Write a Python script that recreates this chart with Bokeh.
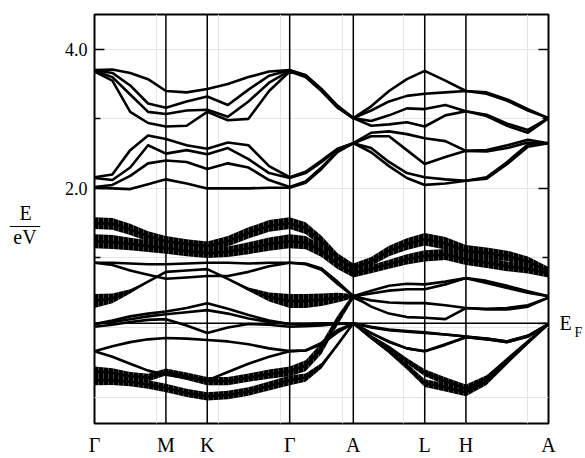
import numpy as np
from bokeh.plotting import figure
from bokeh.models import (Range1d, LinearAxis, FixedTicker, Span,
                          NumeralTickFormatter)
from bokeh.embed import file_html
from bokeh.resources import INLINE

# ---- path through the Brillouin zone -------------------------------------
k_labels = ["Γ", "M", "K", "Γ", "A", "L", "H", "A"]
k_sym = [0.0, 0.577, 0.911, 1.577, 2.091, 2.668, 3.001, 3.668]
seg_steps = [4, 2, 4, 4, 4, 2, 4]   # sampled intervals per segment

e_fermi = 0.06

# ---- conduction bands (eV), ordered from top to bottom ---------------------
cond_1 = [3.70, 3.71, 3.66, 3.57, 3.40, 3.38, 3.43, 3.50, 3.60, 3.68, 3.70, 3.63, 3.43, 3.19, 3.01, 3.18, 3.40, 3.57, 3.69, 3.55, 3.40, 3.38, 3.28, 3.14, 3.01]
cond_2 = [3.70, 3.66, 3.48, 3.22, 3.16, 3.25, 3.32, 3.20, 3.42, 3.62, 3.70, 3.62, 3.42, 3.18, 3.01, 3.12, 3.25, 3.33, 3.36, 3.38, 3.40, 3.36, 3.26, 3.12, 3.01]
cond_3 = [3.69, 3.60, 3.35, 3.10, 3.07, 3.12, 3.13, 3.03, 3.25, 3.52, 3.69, 3.61, 3.41, 3.17, 3.01, 2.97, 3.05, 3.15, 3.14, 3.20, 3.11, 3.06, 2.93, 2.84, 3.01]
cond_4 = [3.68, 3.55, 3.10, 2.94, 2.89, 2.90, 3.10, 2.98, 3.00, 3.40, 3.68, 3.60, 3.40, 3.16, 3.01, 2.90, 2.92, 2.95, 2.89, 3.05, 3.11, 3.04, 2.90, 2.80, 3.01]
cond_5 = [2.16, 2.20, 2.55, 2.76, 2.71, 2.62, 2.57, 2.66, 2.62, 2.32, 2.16, 2.24, 2.40, 2.57, 2.65, 2.80, 2.82, 2.78, 2.72, 2.68, 2.54, 2.55, 2.62, 2.70, 2.65]
cond_6 = [2.15, 2.12, 2.30, 2.62, 2.50, 2.55, 2.49, 2.58, 2.42, 2.22, 2.15, 2.22, 2.38, 2.56, 2.65, 2.75, 2.75, 2.55, 2.35, 2.45, 2.54, 2.53, 2.58, 2.66, 2.65]
cond_7 = [2.02, 2.05, 2.18, 2.36, 2.40, 2.38, 2.28, 2.36, 2.30, 2.12, 2.02, 2.10, 2.30, 2.53, 2.65, 2.58, 2.38, 2.22, 2.16, 2.13, 2.11, 2.16, 2.38, 2.63, 2.65]
cond_8 = [2.01, 2.00, 1.99, 2.06, 2.13, 2.07, 2.00, 2.00, 2.00, 2.01, 2.01, 2.08, 2.28, 2.52, 2.65, 2.52, 2.32, 2.15, 2.05, 2.07, 2.11, 2.14, 2.35, 2.60, 2.65]

# ---- valence bands (eV) -----------------------------------------------------
val_1 = [1.50, 1.49, 1.41, 1.31, 1.24, 1.20, 1.17, 1.24, 1.36, 1.46, 1.50, 1.43, 1.24, 1.00, 0.86, 0.95, 1.10, 1.20, 1.27, 1.21, 1.10, 1.07, 1.03, 0.95, 0.81]
val_2 = [1.24, 1.23, 1.20, 1.17, 1.14, 1.10, 1.07, 1.09, 1.14, 1.20, 1.24, 1.22, 1.10, 0.91, 0.78, 0.84, 0.91, 0.98, 1.03, 1.05, 0.98, 0.93, 0.88, 0.84, 0.78]
val_3 = [0.93, 0.93, 0.92, 0.91, 0.91, 0.92, 0.93, 0.93, 0.92, 0.93, 0.93, 0.92, 0.85, 0.66, 0.45, 0.53, 0.60, 0.63, 0.62, 0.66, 0.71, 0.67, 0.60, 0.52, 0.45]
val_4 = [0.93, 0.90, 0.82, 0.76, 0.70, 0.72, 0.74, 0.74, 0.80, 0.88, 0.93, 0.91, 0.83, 0.63, 0.45, 0.49, 0.53, 0.55, 0.55, 0.62, 0.71, 0.64, 0.57, 0.50, 0.45]
val_5 = [0.38, 0.42, 0.52, 0.66, 0.80, 0.82, 0.84, 0.70, 0.55, 0.44, 0.38, 0.38, 0.40, 0.43, 0.45, 0.39, 0.36, 0.35, 0.35, 0.32, 0.28, 0.26, 0.26, 0.30, 0.43]
val_6 = [0.05, 0.10, 0.16, 0.20, 0.23, 0.28, 0.35, 0.27, 0.18, 0.10, 0.05, 0.05, 0.06, 0.06, 0.06, 0.00, -0.04, -0.06, -0.08, -0.10, -0.13, -0.17, -0.21, -0.13, 0.05]
val_7 = [0.05, 0.08, 0.12, 0.16, 0.19, 0.22, 0.25, 0.20, 0.13, 0.08, 0.05, 0.05, 0.05, 0.06, 0.06, 0.01, -0.03, -0.05, -0.07, -0.10, -0.13, -0.16, -0.20, -0.12, 0.05]
val_8 = [0.01, 0.04, 0.08, 0.11, 0.12, 0.03, -0.08, 0.00, 0.05, 0.04, 0.01, 0.02, 0.03, 0.05, 0.06, -0.08, -0.20, -0.30, -0.34, -0.24, -0.14, -0.17, -0.21, -0.13, 0.05]
val_9 = [-0.34, -0.27, -0.21, -0.17, -0.15, -0.16, -0.18, -0.20, -0.24, -0.30, -0.34, -0.33, -0.22, -0.04, 0.06, -0.08, -0.21, -0.30, -0.34, -0.25, -0.14, -0.16, -0.20, -0.12, 0.05]
val_10 = [-0.34, -0.42, -0.52, -0.62, -0.68, -0.72, -0.76, -0.64, -0.52, -0.42, -0.34, -0.33, -0.24, -0.07, 0.06, -0.13, -0.29, -0.48, -0.65, -0.77, -0.88, -0.73, -0.46, -0.20, 0.05]
val_11 = [-0.63, -0.65, -0.70, -0.72, -0.64, -0.70, -0.77, -0.77, -0.72, -0.67, -0.63, -0.55, -0.30, 0.10, 0.45, 0.30, 0.20, 0.15, 0.14, 0.12, 0.28, 0.27, 0.28, 0.32, 0.43]
val_12 = [-0.76, -0.76, -0.78, -0.82, -0.87, -0.94, -0.99, -0.97, -0.92, -0.84, -0.76, -0.72, -0.55, -0.25, 0.06, -0.15, -0.34, -0.56, -0.80, -0.86, -0.93, -0.78, -0.50, -0.22, 0.05]

# ---- orbital weight of the fat bands (full width, eV) ----------------------
wt_1 = [0.17, 0.17, 0.16, 0.15, 0.15, 0.14, 0.13, 0.15, 0.16, 0.17, 0.17, 0.17, 0.16, 0.14, 0.12, 0.13, 0.15, 0.17, 0.18, 0.18, 0.17, 0.16, 0.15, 0.14, 0.12]
wt_2 = [0.20, 0.20, 0.18, 0.17, 0.16, 0.15, 0.14, 0.15, 0.17, 0.19, 0.20, 0.19, 0.17, 0.14, 0.12, 0.12, 0.13, 0.15, 0.16, 0.16, 0.16, 0.15, 0.14, 0.13, 0.12]
wt_5 = [0.20, 0.14, 0.06, 0.02, 0.0, 0.0, 0.0, 0.0, 0.05, 0.13, 0.20, 0.20, 0.18, 0.14, 0.06, 0.0, 0.0, 0.0, 0.0, 0.0, 0.0, 0.0, 0.0, 0.0, 0.0]
wt_10 = [0.0, 0.0, 0.0, 0.0, 0.0, 0.0, 0.0, 0.0, 0.0, 0.0, 0.0, 0.0, 0.0, 0.0, 0.02, 0.04, 0.06, 0.08, 0.10, 0.11, 0.12, 0.09, 0.06, 0.04, 0.02]
wt_11 = [0.14, 0.13, 0.12, 0.11, 0.10, 0.11, 0.12, 0.12, 0.12, 0.13, 0.14, 0.16, 0.16, 0.14, 0.08, 0.0, 0.0, 0.0, 0.0, 0.0, 0.0, 0.0, 0.0, 0.0, 0.0]
wt_12 = [0.14, 0.13, 0.13, 0.12, 0.12, 0.12, 0.12, 0.12, 0.12, 0.13, 0.14, 0.12, 0.08, 0.04, 0.02, 0.04, 0.07, 0.09, 0.11, 0.12, 0.12, 0.09, 0.06, 0.04, 0.02]

# k coordinate of every sampled point along the path
k = [k_sym[0]]
for i, n in enumerate(seg_steps):
    k += list(np.linspace(k_sym[i], k_sym[i + 1], n + 1)[1:])
k = np.array(k)

serif = "Liberation Serif"
y_lo, y_hi = -1.38, 4.50
f_sub = -0.07          # position of the subscript of the E_F marker

p = figure(width=585, height=458, output_backend="svg", toolbar_location=None,
           x_range=Range1d(k_sym[0], k_sym[-1]), y_range=Range1d(y_lo, y_hi),
           x_axis_location=None, y_axis_location=None,
           min_border_left=94, min_border_right=32, min_border_top=14,
           min_border_bottom=34)
p.background_fill_color = "white"
p.border_fill_color = "white"
p.outline_line_color = "black"
p.outline_line_width = 2


def style_axis(ax, size):
    ax.axis_line_color = None
    ax.major_tick_out = 0
    ax.minor_tick_out = 0
    ax.major_tick_line_width = 1.5
    ax.minor_tick_line_width = 1.5
    ax.major_label_text_font = serif
    ax.major_label_text_font_size = size
    ax.major_label_text_color = "black"


# energy axis on the left, with the unit written as a fraction
# (lines are right-aligned, so the short ones carry fixed-width padding)
left = LinearAxis(ticker=FixedTicker(ticks=[2.0, 4.0], minor_ticks=[1.0, 3.0]),
                  formatter=NumeralTickFormatter(format="0.0"))
style_axis(left, "18px")
left.major_tick_in = 10
left.minor_tick_in = 6
left.major_label_standoff = 7
left.axis_label = "\u2005\nE\u2005\u2006\n\u2013\u2013\u2013\neV\u2006"
left.axis_label_orientation = "horizontal"
left.axis_label_text_font = serif
left.axis_label_text_font_size = "20px"
left.axis_label_text_font_style = "normal"
left.axis_label_text_color = "black"
left.axis_label_text_line_height = 0.55
left.axis_label_standoff = 22
p.add_layout(left, "left")

# mirrored ticks on the right, carrying the E_F marker
right = LinearAxis(ticker=FixedTicker(ticks=[2.0, 4.0, e_fermi], minor_ticks=[1.0, 3.0]),
                   major_label_overrides={2.0: "", 4.0: "", e_fermi: "E"})
style_axis(right, "20px")
right.major_tick_in = 10
right.minor_tick_in = 6
right.major_label_standoff = 11
p.add_layout(right, "right")

sub = LinearAxis(ticker=FixedTicker(ticks=[f_sub]), major_label_overrides={f_sub: "F"})
style_axis(sub, "14px")
sub.major_tick_in = 0
sub.major_label_standoff = 0
p.add_layout(sub, "right")

# k-path labels along the bottom
bottom = LinearAxis(ticker=FixedTicker(ticks=k_sym),
                    major_label_overrides={kv: lab for kv, lab in zip(k_sym, k_labels)})
style_axis(bottom, "20px")
bottom.major_tick_in = 0
bottom.major_label_standoff = 10
p.add_layout(bottom, "below")

# fat bands: width gives the orbital weight
fat = [(val_1, wt_1), (val_2, wt_2), (val_5, wt_5), (val_10, wt_10),
       (val_11, wt_11), (val_12, wt_12)]
for e, w in fat:
    e = np.array(e)
    w = np.array(w)
    p.varea(x=k, y1=e - w / 2, y2=e + w / 2, fill_color="black",
            hatch_pattern="vertical_line", hatch_color="white",
            hatch_alpha=0.35, hatch_scale=5, hatch_weight=0.8)

bands = [cond_1, cond_2, cond_3, cond_4, cond_5, cond_6, cond_7, cond_8,
         val_1, val_2, val_3, val_4, val_5, val_6, val_7, val_8, val_9,
         val_10, val_11, val_12]
for e in bands:
    p.line(k, e, line_color="black", line_width=2.6, line_join="round")

# high-symmetry verticals and the Fermi level
for kx in k_sym[1:-1]:
    p.add_layout(Span(location=kx, dimension="height", line_color="black",
                      line_width=1.5))
p.add_layout(Span(location=e_fermi, dimension="width", line_color="black",
                  line_width=1.5))

open("out.html", "w").write(file_html(p, INLINE))
